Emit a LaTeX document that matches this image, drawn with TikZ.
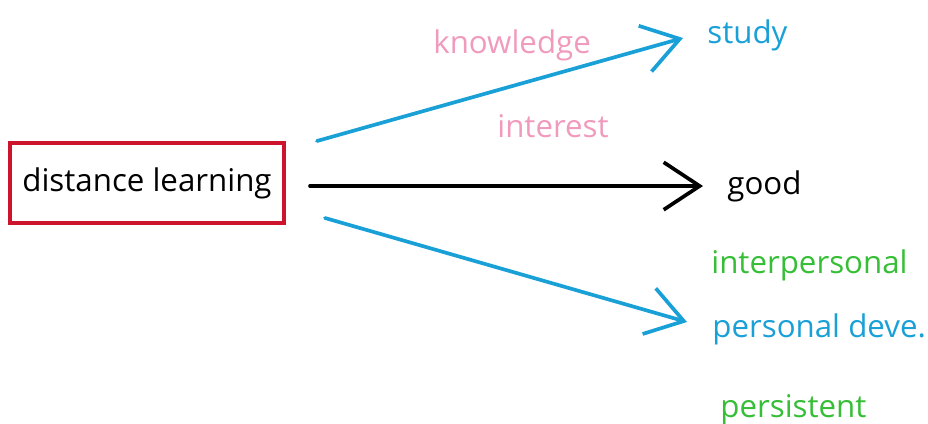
\documentclass[tikz,border=0pt]{standalone}
\usepackage{fontspec}
\setmainfont{Open Sans}
\usepackage{tikz}
\usetikzlibrary{arrows.meta,positioning}
\definecolor{dlred}{RGB}{205,20,45}
\definecolor{dlblue}{RGB}{25,160,215}
\definecolor{dlpink}{RGB}{240,155,190}
\definecolor{dlgreen}{RGB}{55,190,55}
\tikzstyle{mainbox} = [rectangle, draw=dlred, line width=2.2pt, minimum width=5.48cm, minimum height=1.6cm, text centered, font=\fontsize{17.8}{20}\selectfont]
\tikzstyle{word} = [inner sep=0pt, anchor=base west, font=\fontsize{17.8}{20}\selectfont]
\tikzstyle{arrow} = [line width=2.1pt, line cap=round, -{Straight Barb[length=0.72cm, width=0.95cm, line width=2.1pt]}]

\begin{document}
\begin{tikzpicture}[x=0.02cm, y=-0.02cm]
\useasboundingbox (0,0) rectangle (928,423);
% Box
\node[mainbox] (dl) at (147,183) {distance learning};

% Words on the right
\node[word, text=dlblue] (study) at (707,43) {study};
\node[word] (good) at (727,194) {good};
\node[word, text=dlgreen] (inter) at (711,273) {interpersonal};
\node[word, text=dlblue] (pers) at (712,337) {personal deve.};
\node[word, text=dlgreen] (persist) at (720,417) {persistent};

% Words on the arrows
\node[word, text=dlpink] (know) at (433,53) {knowledge};
\node[word, text=dlpink] (interest) at (497,137) {interest};

% Arrow ends
\coordinate (up0) at (317,141);
\coordinate (up1) at (683,38);
\coordinate (mid0) at (310,186);
\coordinate (mid1) at (703,186);
\coordinate (low0) at (325,218);
\coordinate (low1) at (687,322);

% Arrows
\draw[arrow, dlblue] (up0) -- (up1);
\draw[arrow, black] (mid0) -- (mid1);
\draw[arrow, dlblue] (low0) -- (low1);
\end{tikzpicture}
\end{document}
